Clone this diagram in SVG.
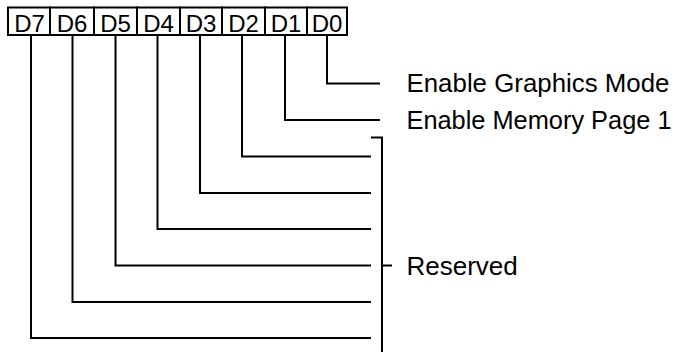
<svg xmlns="http://www.w3.org/2000/svg" width="678" height="352" viewBox="0 0 678 352">
<style>
.box{fill:#fff;stroke:#000;stroke-width:2}
.bt{font-family:"Liberation Sans",Arial,sans-serif;font-size:24px;fill:#000;text-anchor:middle}
.lt{font-family:"Liberation Sans",Arial,sans-serif;font-size:26px;fill:#000}
.ln{fill:none;stroke:#000;stroke-width:2}
</style>
<rect width="678" height="352" fill="#fff"/>
<g id="register">
<g id="bit-D7"><rect class="box" x="8" y="7.5" width="42" height="27.5"/><text class="bt" x="29.5" y="32.3">D7</text></g>
<g id="bit-D6"><rect class="box" x="50" y="7.5" width="44" height="27.5"/><text class="bt" x="72" y="32.3">D6</text></g>
<g id="bit-D5"><rect class="box" x="94" y="7.5" width="43" height="27.5"/><text class="bt" x="115.5" y="32.3">D5</text></g>
<g id="bit-D4"><rect class="box" x="137" y="7.5" width="43" height="27.5"/><text class="bt" x="158.5" y="32.3">D4</text></g>
<g id="bit-D3"><rect class="box" x="180" y="7.5" width="42" height="27.5"/><text class="bt" x="201" y="32.3">D3</text></g>
<g id="bit-D2"><rect class="box" x="222" y="7.5" width="43" height="27.5"/><text class="bt" x="243.5" y="32.3">D2</text></g>
<g id="bit-D1"><rect class="box" x="265" y="7.5" width="42" height="27.5"/><text class="bt" x="286" y="32.3">D1</text></g>
<g id="bit-D0"><rect class="box" x="307" y="7.5" width="40" height="27.5"/><text class="bt" x="327" y="32.3">D0</text></g>
</g>
<g id="connectors">
<path class="ln" d="M327 35V83.5H380"/>
<path class="ln" d="M285 35V120H380"/>
<path class="ln" d="M242 35V156.5H371"/>
<path class="ln" d="M200 35V193H371"/>
<path class="ln" d="M157.5 35V229H371"/>
<path class="ln" d="M115.5 35V265.5H371"/>
<path class="ln" d="M72.5 35V302H371"/>
<path class="ln" d="M31 35V338H371"/>
<path class="ln" d="M371 137.5H382V352"/>
<path class="ln" d="M382 265.5H392"/>
</g>
<g id="labels">
<text id="label-D0" class="lt" x="406.5" y="92" textLength="263" lengthAdjust="spacingAndGlyphs">Enable Graphics Mode</text>
<text id="label-D1" class="lt" x="406.5" y="128.5" textLength="265" lengthAdjust="spacingAndGlyphs">Enable Memory Page 1</text>
<text id="label-reserved" class="lt" x="406.5" y="274.5">Reserved</text>
</g>
</svg>
